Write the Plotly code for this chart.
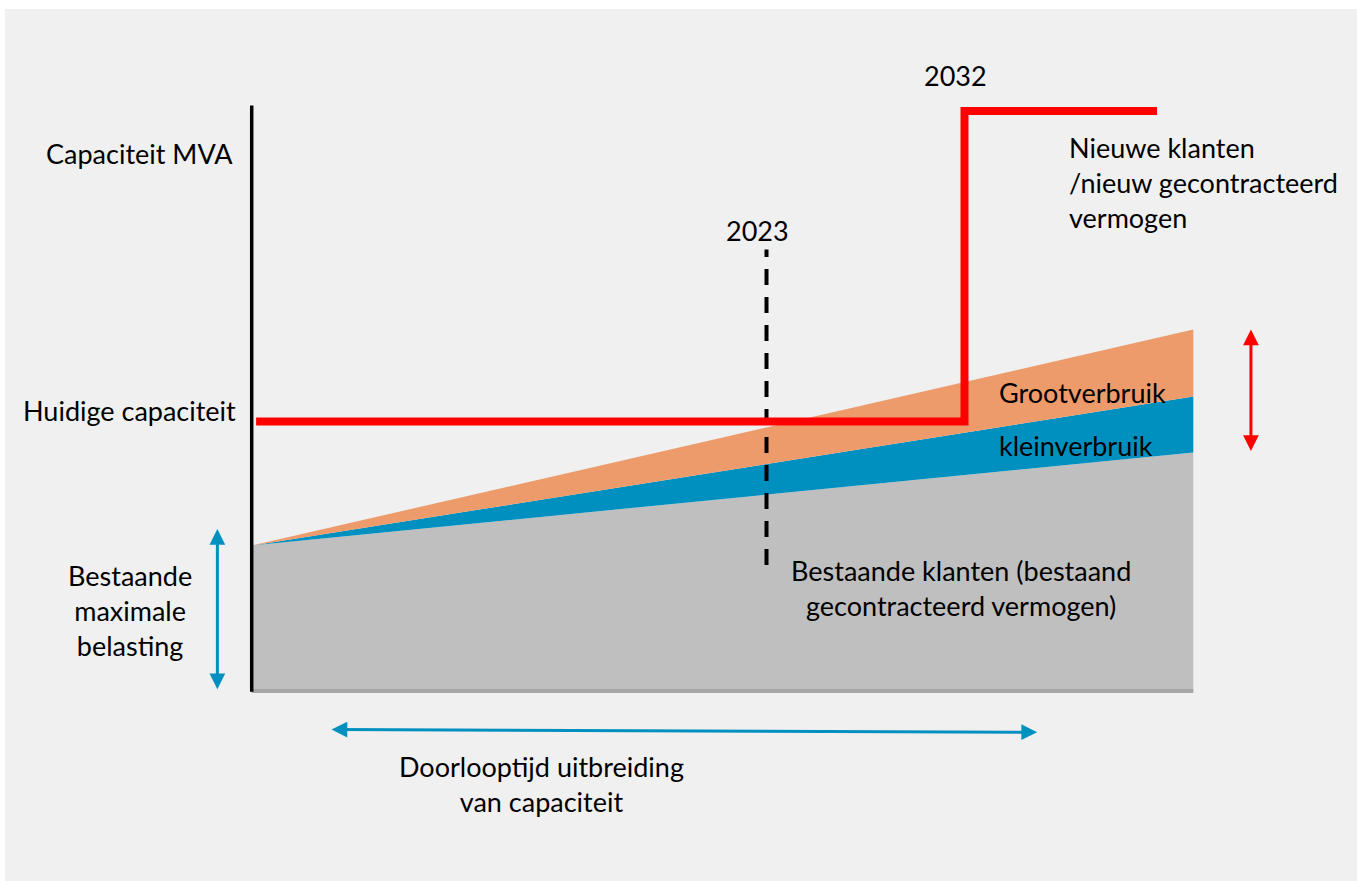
import plotly.graph_objects as go

# ---- data (conceptual units: years on x, MVA on y) ----
years_area = [1999.6, 2042.4]
bestaand = [28.9, 47.5]          # bestaande klanten (grey)
kleinverbruik = [0.0, 11.2]      # increment (blue)
grootverbruik = [0.0, 13.4]      # increment (orange)

cap_years = [1999.8, 2032.0, 2032.0, 2040.75]
cap_values = [53.7, 53.7, 115.8, 115.8]

year_now = 2023
year_new = 2032
dash_y = [25.0, 88.1]

axis_top = 116.9
axis_x = 1999.6
axis_end = 2042.4

FONT = "Lato"
FS = 27
BG = "#f0f0f0"
GREY = "#bfbfbf"
BLUE = "#0090c0"
ORANGE = "#ee9b6b"
RED = "#ff0000"

fig = go.Figure()

fig.add_trace(go.Scatter(x=years_area, y=bestaand, stackgroup="s", mode="lines",
                         line=dict(width=0, color=GREY), fillcolor=GREY, hoverinfo="skip"))
fig.add_trace(go.Scatter(x=years_area, y=kleinverbruik, stackgroup="s", mode="lines",
                         line=dict(width=0, color=BLUE), fillcolor=BLUE, hoverinfo="skip"))
fig.add_trace(go.Scatter(x=years_area, y=grootverbruik, stackgroup="s", mode="lines",
                         line=dict(width=0, color=ORANGE), fillcolor=ORANGE, hoverinfo="skip"))

# axes lines
fig.add_trace(go.Scatter(x=[axis_x, axis_end], y=[-0.2, -0.2], mode="lines",
                         line=dict(color="#a6a6a6", width=4), hoverinfo="skip"))
fig.add_trace(go.Scatter(x=[axis_x, axis_x], y=[-0.35, axis_top], mode="lines",
                         line=dict(color="black", width=3.5), hoverinfo="skip"))

# dashed 2023 line
fig.add_trace(go.Scatter(x=[year_now, year_now], y=dash_y, mode="lines",
                         line=dict(color="black", width=4, dash="16px,12px"), hoverinfo="skip"))

# capacity step line
fig.add_trace(go.Scatter(x=cap_years, y=cap_values, mode="lines",
                         line=dict(color=RED, width=8), hoverinfo="skip"))

def txt(x, y, s, anchor="center", align="center"):
    fig.add_annotation(x=x, y=y, text=s, showarrow=False, xanchor=anchor, yanchor="middle",
                       align=align, font=dict(family=FONT, size=FS, color="black"))

txt(1994.5, 107.4, "Capaciteit MVA")
txt(1994.05, 56.0, "Huidige capaciteit")
txt(1994.07, 16.0, "Bestaande<br>maximale<br>belasting")
txt(2031.57, 123.0, str(year_new))
txt(2022.61, 92.0, str(year_now))
txt(2036.66, 101.6, "Nieuwe klanten<br>/nieuw gecontracteerd<br>vermogen", anchor="left", align="left")
txt(2033.46, 59.6, "Grootverbruik", anchor="left", align="left")
txt(2033.46, 49.0, "kleinverbruik", anchor="left", align="left")
txt(2031.84, 20.4, "Bestaande klanten (bestaand<br>gecontracteerd vermogen)")
txt(2012.75, -18.7, "Doorlooptijd uitbreiding<br>van capaciteit")

def arrow(x0, y0, x1, y1, color):
    fig.add_annotation(x=x1, y=y1, ax=x0, ay=y0, xref="x", yref="y", axref="x", ayref="y",
                       text="", showarrow=True, arrowhead=2, startarrowhead=2,
                       arrowside="end+start", arrowwidth=3, arrowsize=1.05,
                       startarrowsize=1.05, arrowcolor=color, standoff=0, startstandoff=0)

arrow(2045.02, bestaand[1], 2045.02, bestaand[1] + kleinverbruik[1] + grootverbruik[1], RED)
arrow(1998.04, -0.14, 1998.04, 32.2, BLUE)
arrow(2003.16, -7.9, 2035.3, -8.46, BLUE)

fig.update_layout(
    width=1357, height=881, autosize=False,
    margin=dict(l=5, r=0, t=9, b=0),
    paper_bgcolor="white", plot_bgcolor=BG,
    showlegend=False,
    xaxis=dict(range=[1988.386, 2049.841], visible=False, fixedrange=True),
    yaxis=dict(range=[-38.2, 136.2], visible=False, fixedrange=True),
)

fig.write_html("out.html", config={"displayModeBar": False})
